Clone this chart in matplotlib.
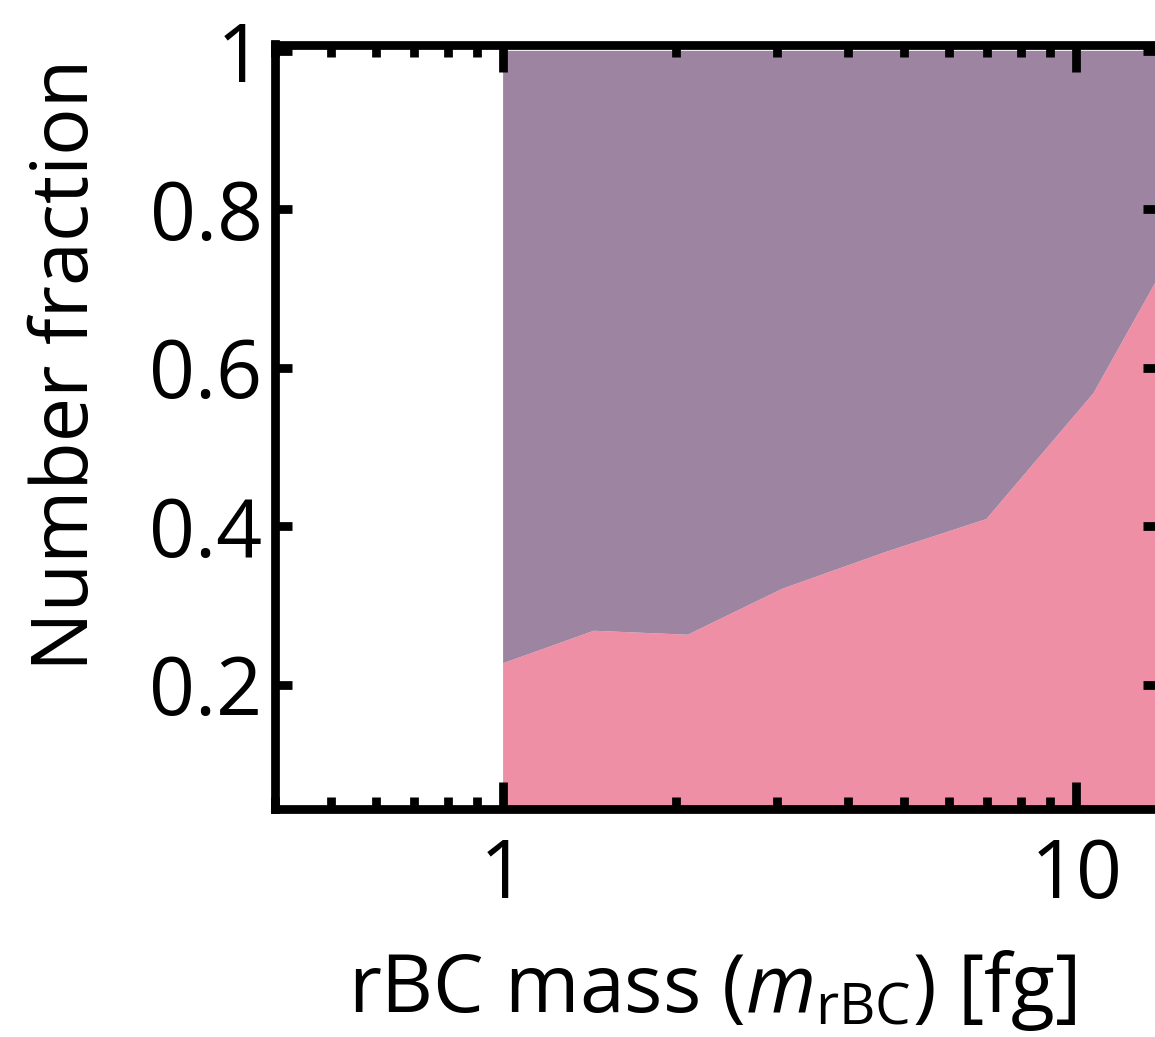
import matplotlib
matplotlib.use("Agg")
import matplotlib.pyplot as plt
from matplotlib.ticker import FixedLocator, NullFormatter, NullLocator

plt.rcParams['font.family'] = ['Open Sans', 'DejaVu Sans']
plt.rcParams['mathtext.fontset'] = 'custom'
plt.rcParams['mathtext.rm'] = 'Open Sans'
plt.rcParams['mathtext.it'] = 'Open Sans:italic'

# data
mass_fg = [1.0, 1.44, 2.10, 3.07, 4.63, 6.97, 10.72, 15.6]
frac_pink = [0.227, 0.268, 0.263, 0.321, 0.367, 0.409, 0.568, 0.779]
frac_purple = [1 - v for v in frac_pink]
x_ticks = [1, 10]
x_ticklabels = ["1", "10"]
y_ticks = [0.2, 0.4, 0.6, 0.8, 1.0]
y_ticklabels = ["0.2", "0.4", "0.6", "0.8", "1"]

pink = "#EE8FA6"
purple = "#9D84A0"

fig = plt.figure(figsize=(11.55, 10.37), dpi=100)
ax = fig.add_axes([275/1155, (1037-809)/1037, (1160-275)/1155, (809-44.5)/1037])

ax.stackplot(mass_fg, frac_pink, frac_purple, colors=[pink, purple], linewidth=0)

ax.set_xscale('log')
ax.set_xlim(0.4, 14)
ax.set_ylim(0.043, 1.008)

ax.xaxis.set_major_locator(FixedLocator(x_ticks))
ax.set_xticklabels(x_ticklabels)
minors = [m * d for d in (0.1, 1, 10) for m in range(2, 10)]
ax.xaxis.set_minor_locator(FixedLocator(minors))
ax.xaxis.set_minor_formatter(NullFormatter())
ax.set_yticks(y_ticks)
ax.set_yticklabels(y_ticklabels)
ax.yaxis.set_minor_locator(NullLocator())

for s in ax.spines.values():
    s.set_linewidth(6.3)
    s.set_zorder(5)

ax.tick_params(axis='x', which='major', direction='in', length=19.5, width=6.3,
               top=True, bottom=True, labelsize=58, pad=20)
ax.tick_params(axis='x', which='minor', direction='in', length=8.6, width=6.3,
               top=True, bottom=True)
ax.tick_params(axis='y', which='major', direction='in', length=12.2, width=6.3,
               left=True, right=True, labelsize=58, pad=9)

ax.set_ylabel("Number fraction", fontsize=57)
ax.yaxis.set_label_coords(-0.19, 0.581)
ax.set_xlabel(r"rBC mass ($m_{\rm rBC}$) [fg]", fontsize=58)
ax.xaxis.set_label_coords(0.494, -0.182)

fig.savefig("out.png", dpi=100)
